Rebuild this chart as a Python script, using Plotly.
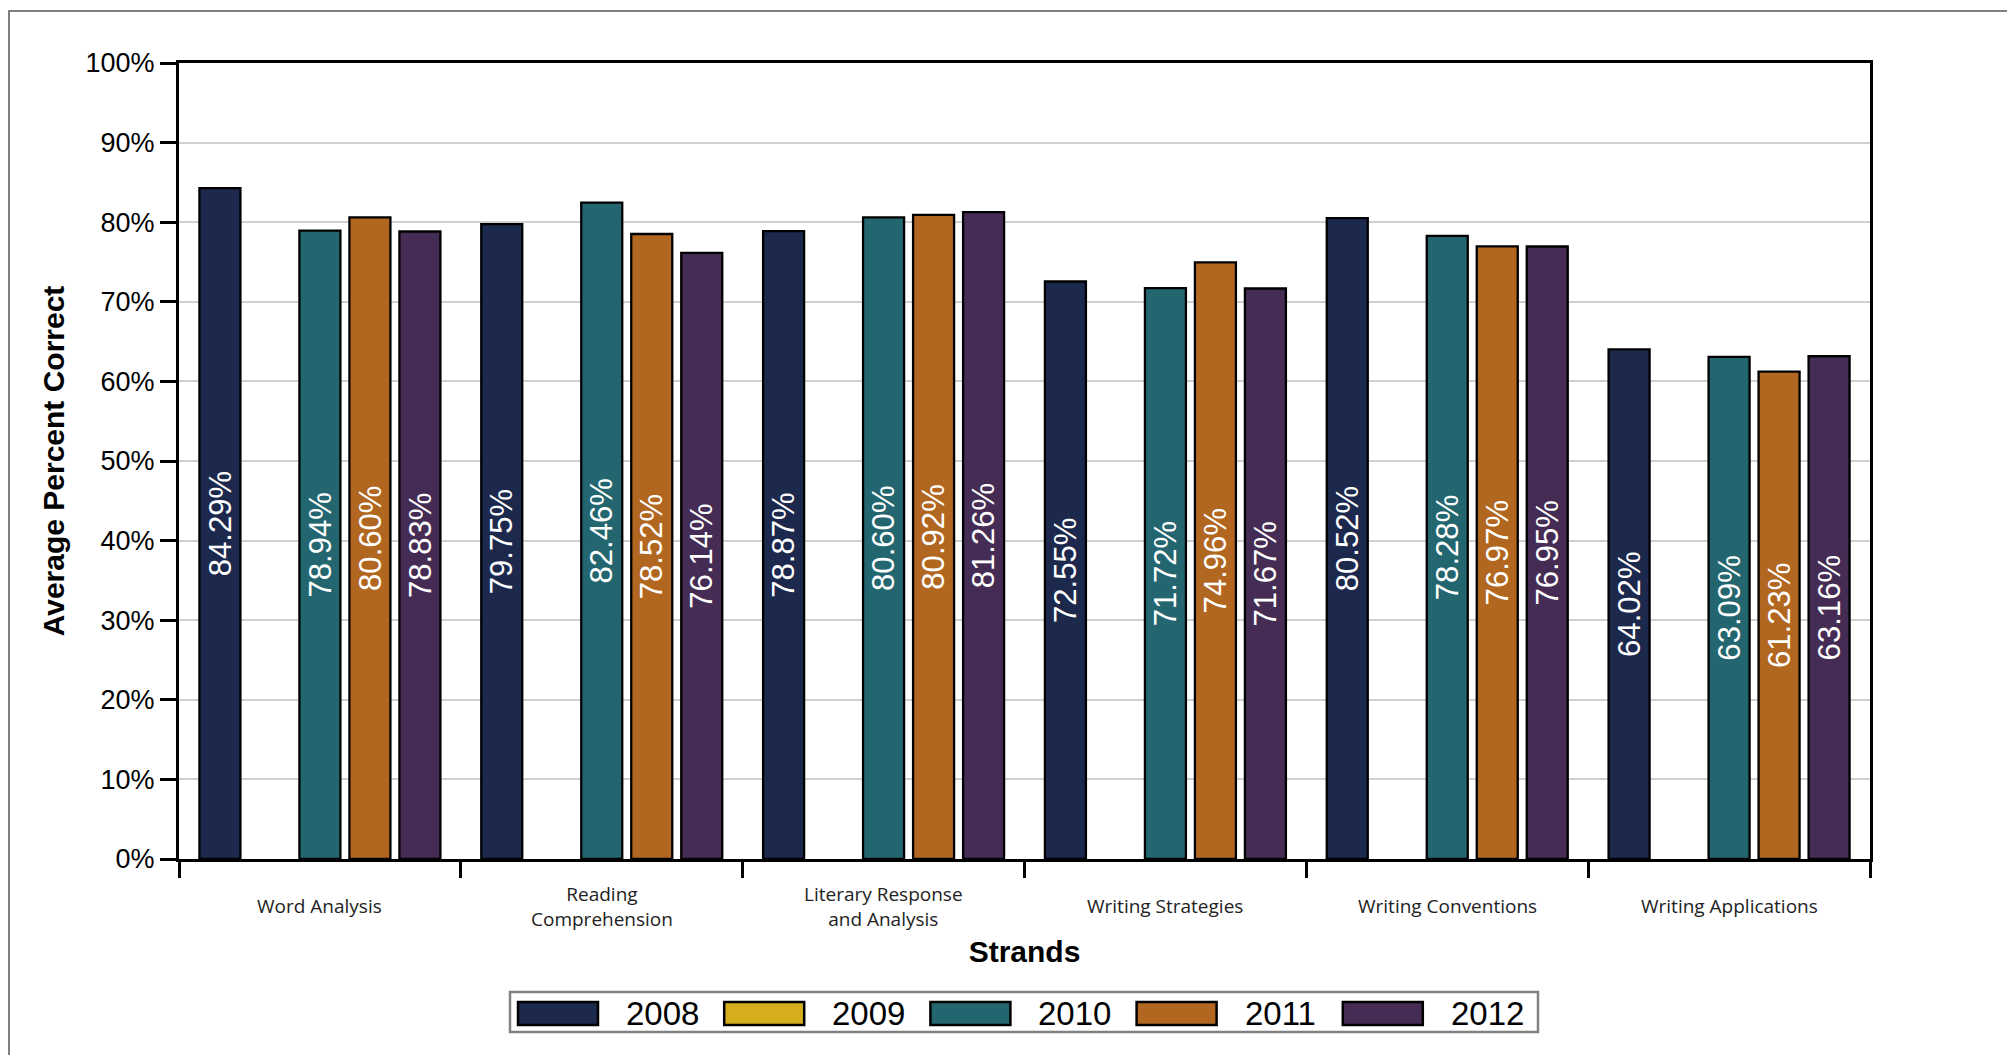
import plotly.graph_objects as go

# ---------------- data ----------------
categories = ["Word Analysis", "Reading Comprehension", "Literary Response and Analysis",
              "Writing Strategies", "Writing Conventions", "Writing Applications"]
category_labels = ["Word Analysis", "Reading<br>Comprehension", "Literary Response<br>and Analysis",
                   "Writing Strategies", "Writing Conventions", "Writing Applications"]
years = ["2008", "2009", "2010", "2011", "2012"]
v2008 = [84.29, 79.75, 78.87, 72.55, 80.52, 64.02]
v2009 = [None, None, None, None, None, None]
v2010 = [78.94, 82.46, 80.60, 71.72, 78.28, 63.09]
v2011 = [80.60, 78.52, 80.92, 74.96, 76.97, 61.23]
v2012 = [78.83, 76.14, 81.26, 71.67, 76.95, 63.16]
series = [v2008, v2009, v2010, v2011, v2012]
colors = ["#1c294d", "#d5ae1e", "#236670", "#b26720", "#452c54"]
y_ticks = [0, 10, 20, 30, 40, 50, 60, 70, 80, 90, 100]

# ---------------- layout constants ----------------
W, H = 2007, 1055
L, R, T, B = 179, 137, 63, 196
PW, PH = W - L - R, H - T - B


def px2x(px):
    return (px - L) / PW


def px2y(py):
    return (H - B - py) / PH


FONT = "Liberation Sans, Arial, sans-serif"

fig = go.Figure()
for name, vals, col in zip(years, series, colors):
    fig.add_trace(go.Bar(
        x=categories, y=vals, name=name,
        marker=dict(color=col, line=dict(color="black", width=2.3)),
        text=["" if v is None else f"{v:.2f}%" for v in vals],
        textposition="inside", insidetextanchor="middle", textangle=-90,
        textfont=dict(color="white", size=32, family=FONT),
        hoverinfo="x+y+name",
    ))

shapes = []
annotations = []

# category labels (vertically centred like the original)
for cat, lab in zip(categories, category_labels):
    annotations.append(dict(x=cat, xref="x", y=px2y(906), yref="paper", text=lab,
                            showarrow=False, xanchor="center", yanchor="middle",
                            font=dict(size=19, family="Open Sans, sans-serif", color="#222")))

# outer frame
shapes.append(dict(type="rect", xref="paper", yref="paper",
                   x0=px2x(9), x1=px2x(2015), y0=px2y(1070), y1=px2y(11),
                   line=dict(color="#555555", width=1.5), layer="below"))

# custom legend
leg_left, leg_right, leg_top, leg_bot = 510, 1538, 992, 1032
shapes.append(dict(type="rect", xref="paper", yref="paper",
                   x0=px2x(leg_left), x1=px2x(leg_right), y0=px2y(leg_bot), y1=px2y(leg_top),
                   line=dict(color="#808080", width=2.5)))
pitch = 206.2
for i, (name, col) in enumerate(zip(years, colors)):
    sx = 518 + i * pitch
    shapes.append(dict(type="rect", xref="paper", yref="paper",
                       x0=px2x(sx), x1=px2x(sx + 80), y0=px2y(1025), y1=px2y(1002),
                       fillcolor=col, line=dict(color="black", width=2.5)))
    annotations.append(dict(x=px2x(sx + 106), xref="paper", y=px2y(1013), yref="paper",
                            text=name, showarrow=False, xanchor="left", yanchor="middle",
                            font=dict(size=33, family=FONT, color="black")))

fig.update_layout(
    width=W, height=H,
    margin=dict(l=L, r=R, t=T, b=B, autoexpand=False),
    paper_bgcolor="white", plot_bgcolor="white",
    barmode="group", bargap=0.113, bargroupgap=0.18,
    showlegend=False,
    shapes=shapes, annotations=annotations,
    font=dict(family=FONT, color="black"),
    xaxis=dict(
        type="category", categoryorder="array", categoryarray=categories,
        range=[-0.5, 5.5],
        showticklabels=False, tickson="boundaries", ticks="outside", ticklen=16,
        tickwidth=2.5, tickcolor="black",
        showline=True, linecolor="black", linewidth=3, mirror=True,
        showgrid=False, zeroline=False,
        title=dict(text="<b>Strands</b>", font=dict(size=30, family=FONT), standoff=80),
    ),
    xaxis2=dict(
        overlaying="x", side="top", anchor="y", range=[-0.5, 5.5],
        tickvals=[0.5, 1.5, 2.5, 3.5, 4.5], ticks="inside", ticklen=12, tickwidth=2.5,
        tickcolor="black", showticklabels=False, showgrid=False, zeroline=False, showline=False,
    ),
    xaxis3=dict(
        overlaying="x", side="bottom", anchor="y", range=[-0.5, 5.5],
        tickvals=[0.5, 1.5, 2.5, 3.5, 4.5, 5.5], ticks="inside", ticklen=12, tickwidth=2.5,
        tickcolor="black", showticklabels=False, showgrid=False, zeroline=False, showline=False,
    ),
    yaxis=dict(
        range=[0, 100], tickvals=y_ticks, ticktext=[f"{t}%" for t in y_ticks],
        ticks="outside", ticklen=16, tickwidth=2.5, tickcolor="black",
        tickfont=dict(size=27, family=FONT, color="black"),
        showline=True, linecolor="black", linewidth=3, mirror=True,
        showgrid=True, gridcolor="#d0d0d0", gridwidth=2.2, zeroline=False,
        title=dict(text="<b>Average Percent Correct</b>", font=dict(size=30, family=FONT), standoff=13),
    ),
)

fig.write_html("out.html", config={"displayModeBar": False},
               post_script="document.body.style.margin='0';document.body.style.overflow='hidden';")
